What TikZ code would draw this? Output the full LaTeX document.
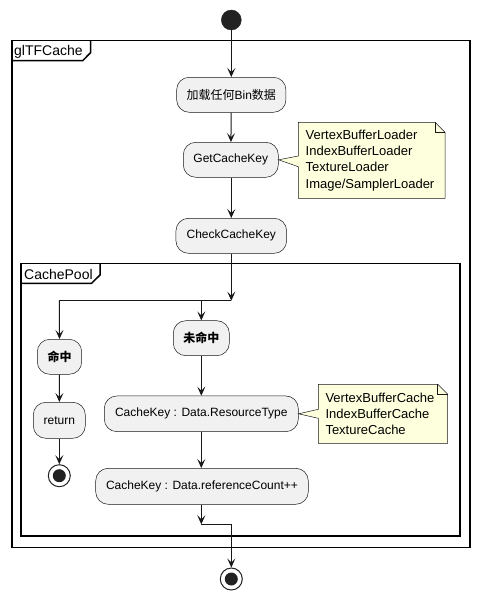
\documentclass[tikz,border=0pt]{standalone}
\usepackage{fontspec}
\setmainfont{Liberation Sans}
\newfontfamily\cjk{Noto Sans CJK SC}
\usetikzlibrary{arrows.meta}
\definecolor{actfill}{HTML}{F1F1F1}
\definecolor{linec}{HTML}{181818}
\definecolor{notefill}{HTML}{FEFFDD}
\definecolor{dotc}{HTML}{222222}
\begin{document}
\begin{tikzpicture}[x=1pt,y=-1pt,
  act/.style={draw=linec, line width=0.5pt, fill=actfill, rounded corners=12.5pt,
    minimum height=35pt, inner sep=0pt, font=\fontsize{12}{14}\selectfont},
  notebox/.style={inner xsep=7pt, inner ysep=0pt, align=left, anchor=center,
    font=\fontsize{13}{16.4}\selectfont},
  notepath/.style={draw=linec, line width=0.5pt, fill=notefill},
  flow/.style={draw=linec, line width=1pt, -{Stealth[length=9pt,width=8pt,inset=4pt]}},
  bar/.style={draw=linec, line width=1.5pt},
  frame/.style={draw=black, line width=1.5pt},
  framelabel/.style={anchor=base west, inner sep=0pt, font=\fontsize{14}{16}\selectfont},
  startdot/.style={circle, fill=dotc, draw=dotc, minimum size=20pt, inner sep=0pt},
  stopdot/.style={circle, fill=white, draw=dotc, line width=1pt, minimum size=22pt, inner sep=0pt}
]
\useasboundingbox (0,0) rectangle (479,600);

% frames
\draw[frame] (12,40.7) rectangle (470,547.7);
\draw[frame] (12,60.7) -- (82.7,60.7) -- (90.7,52.5) -- (90.7,40.7);
\node[framelabel] (outerlabel) at (14,55) {glTFCache};

\draw[frame] (21,263.3) rectangle (460,536);
\draw[frame] (21,283.3) -- (91.5,283.3) -- (100,275) -- (100,263.3);
\node[framelabel] (innerlabel) at (24,279.5) {CachePool};

% start
\node[startdot] (start) at (231.3,20) {};

% activities
\node[act, minimum width=109.3pt] (load) at (231.3,94.8) {{\cjk 加载任何}Bin{\cjk 数据}};
\node[act, minimum width=95pt] (getkey) at (230.8,159.8) {GetCacheKey};
\node[act, minimum width=110.7pt] (check) at (231.3,235.8) {CheckCacheKey};
\node[act, minimum width=44.4pt] (hit) at (59.5,356.8) {\cjk\bfseries 命中};
\node[act, minimum width=56pt] (miss) at (201.3,338.2) {\cjk\bfseries 未命中};
\node[act, minimum width=52pt, minimum height=36pt] (ret) at (59.3,420.3) {return};
\node[act, minimum width=194pt, minimum height=35.7pt] (restype) at (201.3,413.8) {CacheKey : Data.ResourceType};
\node[act, minimum width=212.6pt, minimum height=36pt] (refcount) at (202,486.3) {CacheKey : Data.referenceCount++};

% stops
\node[stopdot] (stopa) at (59.3,475.7) {};
\fill[dotc] (stopa.center) circle (6.5pt);
\node[stopdot] (stopb) at (231.3,579) {};
\fill[dotc] (stopb.center) circle (6.5pt);

% notes
\path[notepath] (298.3,122.3) -- (435,122.3) -- (445,132.3) -- (445,198.3) -- (298.3,198.3)
  -- (298.3,166.7) -- (getkey.east) -- (298.3,156) -- cycle;
\draw[linec, line width=0.5pt] (435,122.3) -- (435,132.3) -- (445,132.3);
\node[notebox, text width=132pt] (note1) at (371.7,160.3)
  {VertexBufferLoader\\IndexBufferLoader\\TextureLoader\\Image/SamplerLoader};

\path[notepath] (318.3,384.3) -- (437.7,384.3) -- (447.7,394.3) -- (447.7,443.3) -- (318.3,443.3)
  -- (318.3,418.3) -- (restype.east) -- (318.3,409.3) -- cycle;
\draw[linec, line width=0.5pt] (437.7,384.3) -- (437.7,394.3) -- (447.7,394.3);
\node[notebox, text width=115pt] (note2) at (383,413.8)
  {VertexBufferCache\\IndexBufferCache\\TextureCache};

% fork / merge coordinates
\coordinate (forkR) at (231.3,300.7);
\coordinate (forkL) at (59.3,300.7);
\coordinate (forkM) at (201.3,300.7);
\coordinate (mergeL) at (201.3,524.3);
\coordinate (mergeR) at (231.3,524.3);

% connectors
\draw[flow] (start) -- (load);
\draw[flow] (load) -- (getkey);
\draw[flow] (getkey.south -| check.north) -- (check);
\draw[flow] (check.south) -- (forkR);
\draw[bar] (forkL) -- (forkR);
\draw[flow] (forkL) -- (hit.north);
\draw[flow] (forkM) -- (miss.north);
\draw[flow] (hit) -- (ret);
\draw[flow] (ret) -- (stopa);
\draw[flow] (miss) -- (restype);
\draw[flow] (restype.south) -- (restype.south |- refcount.north);
\draw[flow] (refcount.south -| mergeL) -- (mergeL);
\draw[bar] (mergeL) -- (mergeR);
\draw[flow] (mergeR) -- (stopb);
\end{tikzpicture}
\end{document}
